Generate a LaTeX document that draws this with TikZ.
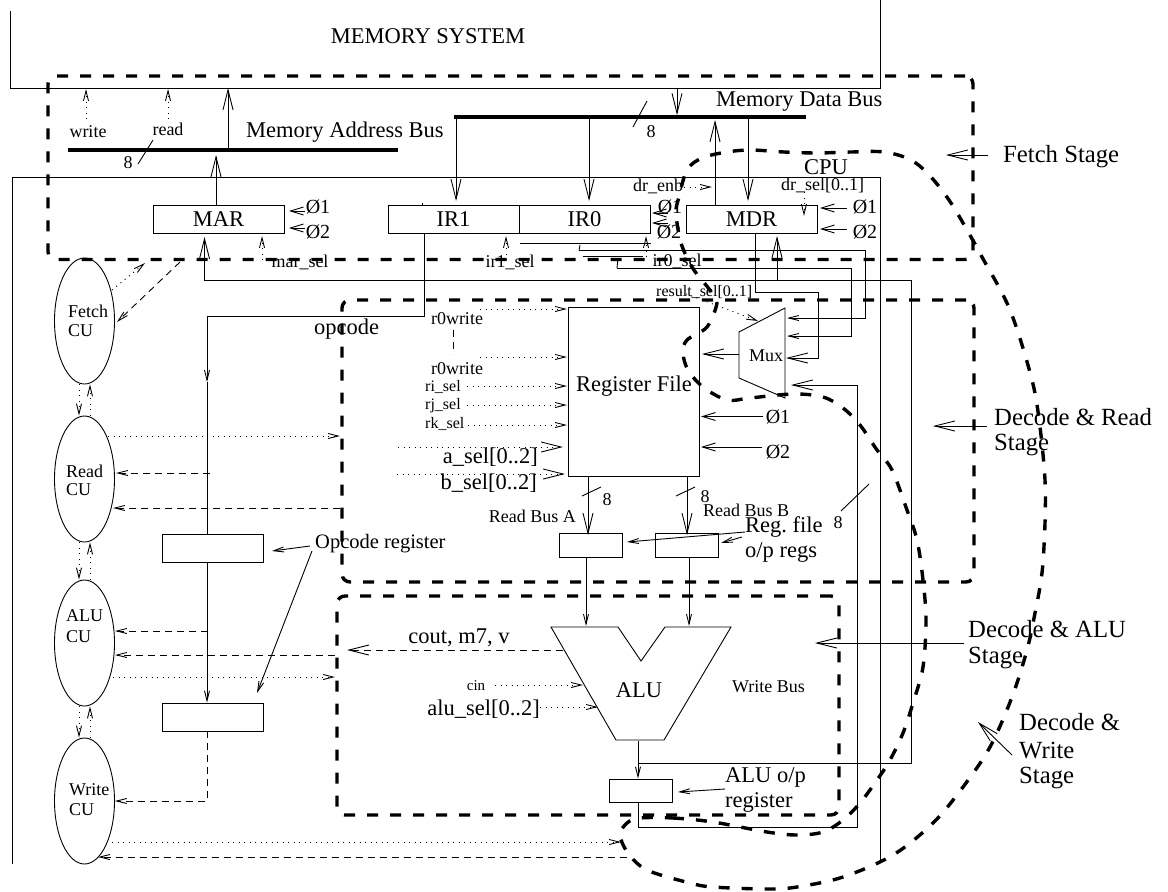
\documentclass[tikz,border=0pt]{standalone}
\usepackage{fontspec}
\setmainfont{Liberation Serif}
\usetikzlibrary{arrows.meta,calc,shapes.geometric}
\newcommand{\sizeH}{\fontsize{24.7}{28}\selectfont}
\newcommand{\sizeL}{\fontsize{22.5}{26}\selectfont}
\newcommand{\sizeM}{\fontsize{18}{21}\selectfont}
\newcommand{\sizeS}{\fontsize{16}{19}\selectfont}
\newcommand{\sizeT}{\fontsize{15}{18}\selectfont}
\newcommand{\sizeP}{\fontsize{20}{23}\selectfont}
\tikzset{
  wire/.style={line width=0.9pt},
  tipL/.style={-{Straight Barb[length=20pt,width=10pt]}},
  tipM/.style={-{Straight Barb[length=13pt,width=8pt]}},
  tipS/.style={-{Straight Barb[length=10pt,width=5pt]}},
  ctl/.style={line width=0.9pt, dash pattern=on 1pt off 4.5pt},
  flag/.style={line width=0.9pt, dash pattern=on 7pt off 5pt},
  regbox/.style={draw, line width=0.9pt, inner sep=0pt, font=\sizeL},
  cunit/.style={draw, ellipse, line width=0.9pt, inner sep=0pt, minimum width=60pt, minimum height=126pt},
  busbar/.style={fill=black, inner sep=0pt, minimum height=3.2pt},
  stagebox/.style={draw, line width=3.4pt, dash pattern=on 11pt off 12pt, rounded corners=8pt, inner sep=0pt},
  lab/.style={inner sep=0pt, anchor=west},
  labr/.style={inner sep=0pt, anchor=east},
  labc/.style={inner sep=0pt, anchor=center}
}
\begin{document}
\begin{tikzpicture}[x=1pt,y=-1pt]
\useasboundingbox (0,0) rectangle (1168,892);
% memory and cpu outlines
\draw[wire] (10.5,11) -- (10.5,88.5) -- (880,88.5) -- (880,0);
\draw[wire] (12,864) -- (12,177.5) -- (880,177.5) -- (880,860);
% buses
\node[busbar, minimum width=330pt] (addrbus) at (233,150) {};
\node[busbar, minimum width=352pt] (databus) at (630,117) {};
% registers
\node[regbox, minimum width=131pt, minimum height=28pt] (mar) at (218.5,219.5) {MAR};
\node[regbox, minimum width=131pt, minimum height=28pt] (irone) at (453.5,219.5) {IR1};
\node[regbox, minimum width=131pt, minimum height=28pt] (irzero) at (584.5,219.5) {IR0};
\node[regbox, minimum width=131pt, minimum height=28pt] (mdr) at (751.5,219.5) {MDR};
\node[regbox, minimum width=131pt, minimum height=169pt] (regfile) at (633.5,391.5) {};
\node[regbox, minimum width=63pt, minimum height=24pt] (rega) at (590.5,545) {};
\node[regbox, minimum width=63pt, minimum height=24pt] (regb) at (686.5,545) {};
\node[regbox, minimum width=63pt, minimum height=23pt] (aluout) at (640.5,790.5) {};
\node[regbox, minimum width=101pt, minimum height=28pt] (opregone) at (212.5,548) {};
\node[regbox, minimum width=101pt, minimum height=28pt] (opregtwo) at (212.5,717) {};
% control units
\foreach \nm/\yy in {fetchcu/321, readcu/479, alucu/643, writecu/801}
  \node[cunit] (\nm) at (84.5,\yy) {};
% mux and alu outlines
\draw[wire] (739,332) -- (785,308) -- (785,398) -- (739,378) -- cycle;
\draw[wire] (551,627) -- (618,627) -- (641,661) -- (665,627) -- (731,627) -- (664,740) -- (616,740) -- cycle;
% texts: name / x / y / text
\foreach \nm/\xx/\yy/\lbl in {
  tfetch/1003/157/Fetch Stage,
  treada/994/417/Decode \& Read,
  treadb/994/445/Stage,
  talua/968/629/Decode \& ALU,
  talub/968/658/Stage,
  twritea/1019/722/Decode \&,
  twriteb/1019/750/Write,
  twritec/1019/778/Stage
} \node[lab, font=\sizeH] (\nm) at (\xx,\yy) {\lbl};
\foreach \nm/\xx/\yy/\lbl in {
  tmembus/246/132/Memory Address Bus,
  tdatabus/716/102/Memory Data Bus,
  topcode/314/329/opcode,
  trega/745/527/{Reg.\ file},
  tregb/745/553/{o/p regs},
  taluopa/725/777/{ALU o/p},
  taluopb/725/802/register
} \node[lab, font=\sizeL] (\nm) at (\xx,\yy) {\lbl};
\node[lab, font=\fontsize{20.5}{24}\selectfont] (topreg) at (315,544) {Opcode register};
\foreach \nm/\xx/\yy/\lbl in {
  tdrenb/633/186/dr\_enb,
  tdrsel/781/185/{dr\_sel[0..1]},
  tfetchcua/68/311/Fetch,
  tfetchcub/68/331/CU,
  treadcua/66/471/Read,
  treadcub/66/490/CU,
  talucua/66/616/ALU,
  talucub/66/637/CU,
  twritecua/69/790/Write,
  twritecub/69/810/CU,
  tbusb/703/510/Read Bus B,
  twbus/732/687/Write Bus
} \node[lab, font=\sizeM] (\nm) at (\xx,\yy) {\lbl};
\foreach \nm/\xx/\yy/\lbl in {
  trisel/425/387/ri\_sel,
  trjsel/425/406/rj\_sel,
  trksel/425/424/rk\_sel,
  tresult/656/292/{result\_sel[0..1]}
} \node[lab, font=\sizeS] (\nm) at (\xx,\yy) {\lbl};
\foreach \nm/\xx/\yy/\lbl in {
  tmemsys/428/36/MEMORY SYSTEM,
  tcpu/826/167/CPU,
  tregfile/634/386/Register File,
  tcout/459/638/{cout, m7, v},
  talutxt/639/690/ALU
} \node[labc, font=\sizeL] (\nm) at (\xx,\yy) {\lbl};
\foreach \nm/\xx/\yy/\lbl in {
  twritesig/88/132/write,
  treadsig/168/129/read,
  tmarsel/300/262/mar\_sel,
  tirone/510/262/ir1\_sel,
  tirzero/677/261/ir0\_sel,
  trwone/457/319/r0write,
  trwtwo/457/369/r0write,
  teightaddr/128/163/8,
  teightdata/651/132/8,
  teighta/607/500/8,
  teightb/705/497/8,
  teightw/838/523/8,
  tmux/766/356/Mux
} \node[labc, font=\sizeM] (\nm) at (\xx,\yy) {\lbl};
\node[labc, font=\sizeT] (tcin) at (476,686) {cin};
\node[labr, font=\sizeM] (tbusa) at (576,516) {Read Bus A};
\node[labr, font=\sizeL] (tasel) at (538,457) {a\_sel[0..2]};
\node[labr, font=\sizeL] (tbsel) at (537,483) {b\_sel[0..2]};
\node[labr, font=\sizeL] (talusel) at (540,709) {alu\_sel[0..2]};
% clock labels
\foreach \nm/\xx/\yy/\lbl in {
  phma/318/207/1, phmb/318/232/2,
  phia/670/207/1, phib/669/232/2,
  phda/865/207/1, phdb/865/232/2,
  phra/778/417/1, phrb/778/452/2
} \node[labc, font=\sizeP] (\nm) at (\xx,\yy) {\O\lbl};
% free ends of the connectors
\foreach \nm/\xx/\yy in {
  memaddr/228/88, marup/216/155, ironein/456/201, irzeroin/589/201,
  memdata/677/88, mdrup/715/120, mdrin/748/201,
  wbtap/638/763, wbturn/911/280, martip/204.5/237, mdrtip/777/236,
  optap/424.6/316, opturn/207/316, opmid/207/382,
  muxa/787/318, muxaup/865/250.5, muxb/787/336, muxbup/851/268, muxc/786/358, muxcup/818/292,
  mdrtap/755/292, irw/617/268, irwb/618/258, irx/580/245, irxb/579/250.5,
  irya/520/243, iryb/651/243, irza/583/256, irzb/643/256, irtick/422/203,
  muxfb/791/385, fbturn/857/827, fbtap/638/827, muxout/702/354, muxleft/739/354,
  rfa/701/416.5, rfasrc/763/416.5, rfb/701/447, rfbsrc/762/447,
  slaa/582/496, slab/601/487, slba/676/496, slbb/695/487,
  sla/138/164, slb/153/140, slc/633/127, sld/647/101, sle/841/511, slf/869/484,
  busa/588/535, busb/687/535, alua/586/626, alub/689/626, alubot/638/741,
  a1/86/119, a2/86/89, b1/168/119, b2/168/89,
  c1/262/260, c2/262/236, d1/506/260, d2/506/236, e1/646/257, e2/646/236,
  f1/684/187, f2/712/187, g1/804/192, g2/804/216, h1/681/292, h2/758/321,
  i1/480/309, i2/567/309, j1/480/357, j2/567/357, k1/467/386, k2/567/386,
  l1/467/405, l2/567/405, m1/468/425, m2/567/425, n1/398/447, n2/563/447, o1/397/474, o2/565/474,
  q1/453/330, q2/453/354,
  cina/495/685, cinb/583/685, asa/540/707, asb/598/707,
  couta/563/650, coutb/347/650,
  ra/745/532, rb/627/542, rc/742/537, rd/721/543,
  aa/725/789, ab/678/792, oa/310/546, ob/272/551, oc/312/551, od/257/693,
  s1/112/290, s2/145/263, t1/180/262, t2/117/322,
  u1/108/436, u2/340/436, v1/210/473, v2/116/473, w1/340/508, w2/113/508,
  x1/208/631, x2/115/631, y1/335/655, y2/115/655, z1/113/677, z2/335/677,
  wa/112/842, wb/621/842, wc/627/857, wd/98/857,
  fs1/988/155, fs2/946/155, rs1/987/426, rs2/933/426, as1/964/643, as2/815/643, ws1/1012/755, ws2/978/722,
  pma/305/211, pmb/289/211, pmc/305/228, pmd/289/228,
  pia/668/213, pib/652/213, pic/668/223, pid/652/223,
  pda/847/208, pdb/820/208, pdc/847/229, pdd/820/229
} \coordinate (\nm) at (\xx,\yy);
% bus connectors
\draw[wire, tipL] (addrbus.north -| memaddr) -- (memaddr);
\draw[wire, tipL] (mar.north -| marup) -- (marup);
\draw[wire, tipL] (databus.south -| ironein) -- (ironein);
\draw[wire, tipL] (databus.south -| irzeroin) -- (irzeroin);
\draw[wire, tipL] (memdata) -- (databus.north -| memdata);
\draw[wire, tipL] (mdr.north -| mdrup) -- (mdrup);
\draw[wire, tipL] (databus.south -| mdrin) -- (mdrin);
\draw[wire] (irone.north -| irtick) -- (irtick);
% write bus back to mar and mdr
\draw[wire, tipL] (wbtap) -| (wbturn) -| (martip);
\draw[wire, tipL] (wbturn -| mdrtip) -- (mdrtip);
\draw[wire, tipL] (mdr.south -| mdrtap) -- (mdrtap) -| (muxcup) |- (muxc);
\draw[wire, tipS] (irxb) -| (muxaup) |- (muxa);
\draw[wire, tipS] (irw) -| (muxbup) |- (muxb);
\draw[wire] (irw) -- (irwb);
\draw[wire] (irx) -- (irxb);
\draw[wire] (irya) -- (iryb);
\draw[wire] (irza) -- (irzb);
\draw[wire, tipL] (fbtap) -| (fbturn) |- (muxfb);
\draw[wire] (aluout.south -| fbtap) -- (fbtap);
\draw[wire, tipL] (muxleft) -- (muxout);
\draw[wire, tipM] (rfasrc) -- (rfa);
\draw[wire, tipM] (rfbsrc) -- (rfb);
% bus width marks
\foreach \aa/\bb in {sla/slb, slc/sld, slaa/slab, slba/slbb, sle/slf}
  \draw[wire] (\aa) -- (\bb);
% read buses and alu
\draw[wire, tipL] (regfile.south -| busa) -- (busa);
\draw[wire, tipL] (regfile.south -| busb) -- (busb);
\draw[wire, tipS] (rega.south -| alua) -- (alua);
\draw[wire, tipS] (regb.south -| alub) -- (alub);
\draw[wire, tipS] (alubot) -- (aluout.north -| alubot);
% opcode path
\draw[wire, tipS] (irone.south -| optap) -- (optap) -- (opturn) -- (opmid);
\draw[wire] (opmid) -- (opregone.north -| opmid);
\draw[wire, tipS] (opregone.south -| opmid) -- (opregtwo.north -| opmid);
\draw[flag, tipS] (opregtwo.south -| opmid) |- (writecu.east);
% select lines
\foreach \aa/\bb in {a1/a2, b1/b2, c1/c2, d1/d2, e1/e2, f1/f2, g1/g2, h1/h2, i1/i2, j1/j2, k1/k2, l1/l2, m1/m2, cina/cinb, asa/asb, u1/u2, z1/z2, wa/wb, s1/s2}
  \draw[ctl, tipS] (\aa) -- (\bb);
\draw[ctl, tipL] (n1) -- (n2);
\draw[ctl, tipL] (o1) -- (o2);
\draw[flag] (q1) -- (q2);
\draw[flag, tipL] (couta) -- (coutb);
\foreach \aa/\bb in {t1/t2, v1/v2, w1/w2, x1/x2, y1/y2, wc/wd}
  \draw[flag, tipS] (\aa) -- (\bb);
% between the control units
\foreach \up/\dn in {fetchcu/readcu, readcu/alucu, alucu/writecu} {
  \draw[ctl, tipS] ($(\up.south)+(-5.5,0)$) -- ($(\dn.north)+(-5.5,0)$);
  \draw[ctl, tipS] ($(\dn.north)+(5.5,0)$) -- ($(\up.south)+(5.5,0)$);
}
% pointers from the labels
\foreach \aa/\bb in {ra/rb, rc/rd, aa/ab, oa/ob, oc/od}
  \draw[wire, tipS] (\aa) -- (\bb);
\foreach \aa/\bb in {pma/pmb, pmc/pmd, pia/pib, pic/pid, pda/pdb, pdc/pdd}
  \draw[wire, tipM] (\aa) -- (\bb);
\foreach \aa/\bb in {fs1/fs2, rs1/rs2, as1/as2, ws1/ws2}
  \draw[wire, tipL] (\aa) -- (\bb);
% stage outlines
\node[stagebox, minimum width=925pt, minimum height=183.5pt] (fetchstage) at (510.5,167.7) {};
\node[stagebox, minimum width=632pt, minimum height=282pt] (readstage) at (658,441) {};
\node[stagebox, minimum width=502pt, minimum height=219pt] (alustage) at (588,705.5) {};
\draw[line width=3.4pt, dash pattern=on 11pt off 12pt] plot[smooth cycle, tension=0.55] coordinates {
  (640,818) (673,818) (713,822) (767,832) (797,835) (823,832) (843,820) (860,803) (877,780)
  (890,760) (903,733) (913,703) (923,667) (926,620) (923,580) (917,540) (907,510) (892,470)
  (877,450) (860,425) (843,408) (823,397) (793,394) (750,398) (727,400) (703,387) (688,370)
  (683,353) (687,340) (707,327) (717,303) (712,293) (702,280) (692,267) (681,243) (676,213)
  (679,197) (687,170) (702,158) (727,152) (751,150) (784,152) (817,153) (851,152) (884,152)
  (911,160) (931,177) (951,203) (971,237) (982,257) (1010,310) (1032,380) (1040,427) (1045,480)
  (1045,523) (1042,573) (1035,613) (1027,650) (1012,697) (990,747) (963,787) (933,823) (893,855)
  (843,877) (797,887) (767,889) (713,887) (690,883) (647,870) (628,853) (620,835) (627,823)
};
\end{tikzpicture}
\end{document}
